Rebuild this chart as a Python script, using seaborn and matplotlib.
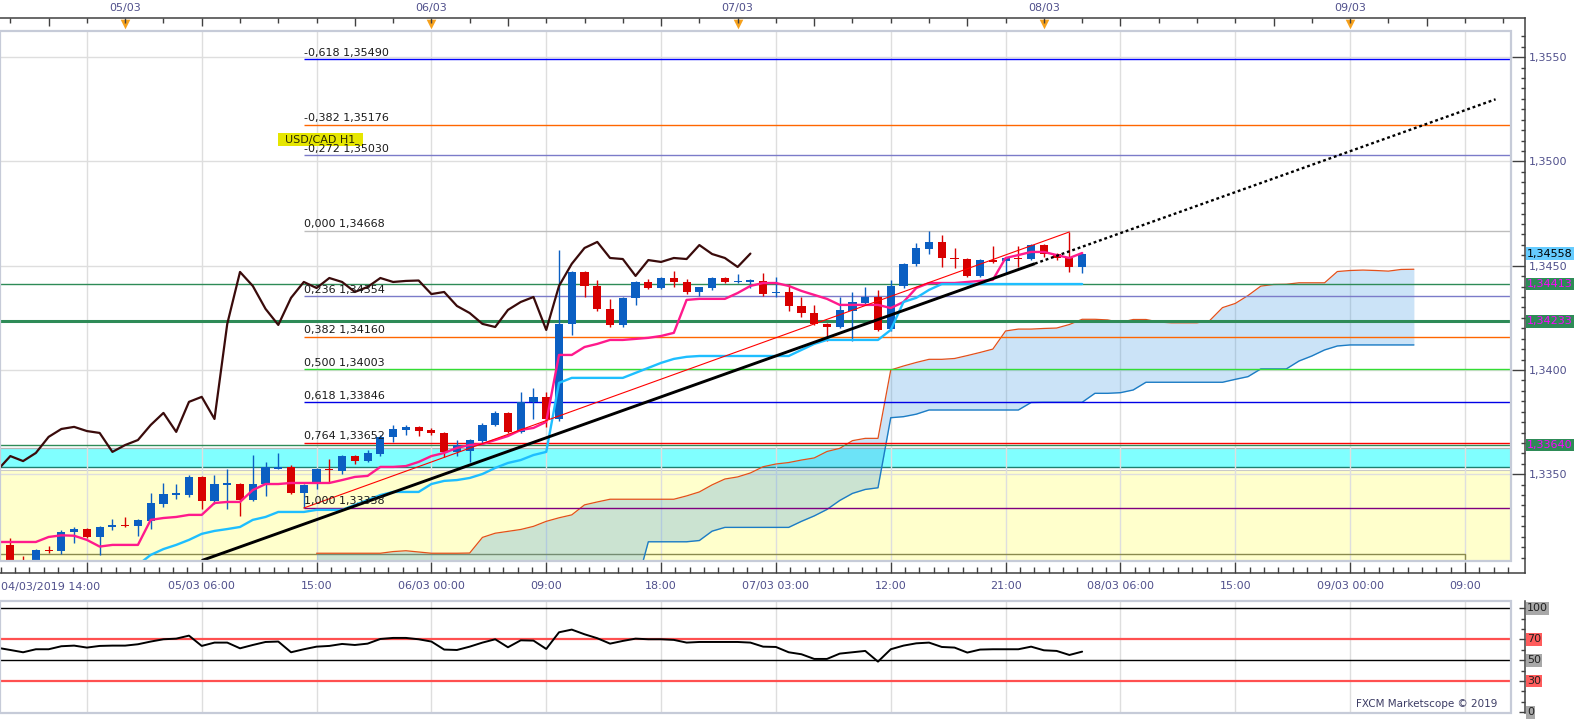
import numpy as np
import pandas as pd
import matplotlib
matplotlib.use("Agg")
import matplotlib.pyplot as plt
import seaborn as sns
from matplotlib.patches import Rectangle
from matplotlib.ticker import FixedLocator, NullFormatter, FuncFormatter
from matplotlib.transforms import blended_transform_factory, offset_copy

sns.set_theme(style="white")
plt.rcParams["font.family"] = ["DejaVu Sans"]

# ---------------- data (hours counted from 04/03/2019 00:00, H1 bars) ----------------
candle_hours = list(range(15, 100))
opens = [1.33161, 1.33089, 1.33079, 1.33137, 1.33132, 1.33223, 1.33237, 1.33199, 1.33247, 1.33256,
         1.33252, 1.33276, 1.33357, 1.33403, 1.33400, 1.33487, 1.33372, 1.33451, 1.33453, 1.33376,
         1.33453, 1.33527, 1.33535, 1.33410, 1.33453, 1.33525, 1.33516, 1.33587, 1.33563, 1.33597,
         1.33679, 1.33712, 1.33727, 1.33712, 1.33698, 1.33607, 1.33611, 1.33659, 1.33736, 1.33794,
         1.33703, 1.33847, 1.33871, 1.33765, 1.34221, 1.34470, 1.34403, 1.34293, 1.34216, 1.34346,
         1.34422, 1.34393, 1.34441, 1.34422, 1.34374, 1.34393, 1.34441, 1.34422, 1.34425, 1.34427,
         1.34369, 1.34374, 1.34307, 1.34273, 1.34221, 1.34206, 1.34283, 1.34321, 1.34350, 1.34197,
         1.34403, 1.34509, 1.34580, 1.34614, 1.34537, 1.34532, 1.34451, 1.34527, 1.34523, 1.34537,
         1.34532, 1.34599, 1.34556, 1.34537, 1.34494]
highs = [1.33194, 1.33108, 1.33141, 1.33156, 1.33232, 1.33247, 1.33242, 1.33252, 1.33285, 1.33295,
         1.33285, 1.33410, 1.33458, 1.33453, 1.33496, 1.33492, 1.33496, 1.33525, 1.33458, 1.33592,
         1.33559, 1.33602, 1.33544, 1.33453, 1.33530, 1.33573, 1.33592, 1.33592, 1.33616, 1.33688,
         1.33736, 1.33736, 1.33731, 1.33722, 1.33703, 1.33664, 1.33669, 1.33746, 1.33803, 1.33799,
         1.33895, 1.33914, 1.33895, 1.34575, 1.34475, 1.34475, 1.34431, 1.34340, 1.34350, 1.34427,
         1.34436, 1.34446, 1.34475, 1.34436, 1.34398, 1.34446, 1.34446, 1.34460, 1.34436, 1.34465,
         1.34446, 1.34412, 1.34350, 1.34312, 1.34226, 1.34350, 1.34374, 1.34398, 1.34384, 1.34431,
         1.34513, 1.34609, 1.34668, 1.34648, 1.34585, 1.34537, 1.34532, 1.34595, 1.34542, 1.34595,
         1.34604, 1.34604, 1.34561, 1.34662, 1.34563]
lows = [1.33050, 1.33060, 1.33074, 1.33122, 1.33117, 1.33170, 1.33194, 1.33113, 1.33232, 1.33247,
        1.33204, 1.33237, 1.33343, 1.33381, 1.33391, 1.33333, 1.33357, 1.33333, 1.33299, 1.33372,
        1.33396, 1.33525, 1.33405, 1.33338, 1.33429, 1.33458, 1.33501, 1.33549, 1.33559, 1.33587,
        1.33655, 1.33688, 1.33683, 1.33688, 1.33583, 1.33587, 1.33559, 1.33650, 1.33731, 1.33698,
        1.33698, 1.33765, 1.33727, 1.33756, 1.34168, 1.34350, 1.34283, 1.34206, 1.34206, 1.34312,
        1.34389, 1.34389, 1.34398, 1.34364, 1.34355, 1.34384, 1.34417, 1.34417, 1.34393, 1.34355,
        1.34350, 1.34283, 1.34254, 1.34216, 1.34139, 1.34202, 1.34139, 1.34312, 1.34187, 1.34187,
        1.34393, 1.34499, 1.34556, 1.34494, 1.34489, 1.34446, 1.34446, 1.34513, 1.34465, 1.34494,
        1.34527, 1.34542, 1.34527, 1.34470, 1.34465]
closes = [1.33079, 1.33079, 1.33137, 1.33132, 1.33223, 1.33237, 1.33199, 1.33247, 1.33256, 1.33252,
          1.33280, 1.33362, 1.33405, 1.33408, 1.33487, 1.33372, 1.33453, 1.33456, 1.33376, 1.33453,
          1.33535, 1.33532, 1.33410, 1.33448, 1.33525, 1.33520, 1.33587, 1.33563, 1.33602, 1.33679,
          1.33717, 1.33727, 1.33707, 1.33698, 1.33607, 1.33640, 1.33664, 1.33736, 1.33794, 1.33703,
          1.33847, 1.33871, 1.33765, 1.34221, 1.34470, 1.34403, 1.34293, 1.34216, 1.34346, 1.34422,
          1.34393, 1.34441, 1.34422, 1.34374, 1.34398, 1.34441, 1.34422, 1.34427, 1.34429, 1.34364,
          1.34374, 1.34307, 1.34273, 1.34221, 1.34206, 1.34288, 1.34326, 1.34350, 1.34192, 1.34403,
          1.34509, 1.34585, 1.34614, 1.34537, 1.34532, 1.34451, 1.34527, 1.34518, 1.34537, 1.34532,
          1.34599, 1.34556, 1.34537, 1.34494, 1.34558]
# indicator series also include the bar just left of the visible window
indicator_hours = list(range(14, 100))
tenkan = [1.33175,
          1.33175, 1.33175, 1.33175, 1.33199, 1.33207, 1.33205, 1.33185, 1.33153, 1.33161, 1.33161,
          1.33161, 1.33281, 1.33290, 1.33295, 1.33305, 1.33305, 1.33362, 1.33367, 1.33367, 1.33424,
          1.33453, 1.33453, 1.33458, 1.33458, 1.33458, 1.33458, 1.33472, 1.33487, 1.33492, 1.33535,
          1.33535, 1.33539, 1.33559, 1.33587, 1.33602, 1.33626, 1.33640, 1.33645, 1.33664, 1.33683,
          1.33712, 1.33722, 1.33751, 1.34072, 1.34072, 1.34110, 1.34125, 1.34144, 1.34144, 1.34149,
          1.34154, 1.34163, 1.34178, 1.34336, 1.34341, 1.34341, 1.34341, 1.34369, 1.34403, 1.34417,
          1.34417, 1.34403, 1.34379, 1.34360, 1.34341, 1.34312, 1.34312, 1.34312, 1.34312, 1.34297,
          1.34326, 1.34393, 1.34417, 1.34417, 1.34417, 1.34422, 1.34427, 1.34432, 1.34537, 1.34551,
          1.34566, 1.34566, 1.34551, 1.34537, 1.34561]
kijun = [1.33017,
         1.33017, 1.33017, 1.33017, 1.33017, 1.33017, 1.33017, 1.33017, 1.33017, 1.33017, 1.33017,
         1.33065, 1.33113, 1.33141, 1.33161, 1.33185, 1.33214, 1.33228, 1.33237, 1.33247, 1.33281,
         1.33295, 1.33319, 1.33319, 1.33319, 1.33329, 1.33329, 1.33329, 1.33353, 1.33376, 1.33400,
         1.33415, 1.33415, 1.33415, 1.33453, 1.33468, 1.33472, 1.33482, 1.33501, 1.33530, 1.33554,
         1.33568, 1.33592, 1.33607, 1.33938, 1.33962, 1.33962, 1.33962, 1.33962, 1.33962, 1.33986,
         1.34010, 1.34034, 1.34053, 1.34063, 1.34067, 1.34067, 1.34067, 1.34067, 1.34067, 1.34067,
         1.34067, 1.34067, 1.34096, 1.34125, 1.34144, 1.34144, 1.34144, 1.34144, 1.34144, 1.34192,
         1.34326, 1.34346, 1.34384, 1.34412, 1.34412, 1.34412, 1.34412, 1.34412, 1.34412, 1.34412,
         1.34412, 1.34412, 1.34412, 1.34412, 1.34412]
rsi_values = [62.0,
              59.9, 57.7, 60.6, 60.6, 63.5, 64.1, 62.2, 63.8, 64.1, 64.1,
              65.4, 68.0, 70.2, 70.8, 73.7, 63.8, 67.0, 67.0, 61.5, 64.7,
              67.6, 68.0, 57.7, 60.6, 63.1, 63.8, 65.7, 64.7, 66.0, 70.5,
              71.5, 71.5, 70.2, 68.0, 60.3, 59.9, 63.1, 67.0, 70.2, 62.5,
              69.2, 68.9, 60.9, 76.9, 79.5, 75.0, 71.2, 66.0, 68.6, 70.8,
              70.2, 70.2, 69.6, 67.0, 67.6, 67.6, 67.6, 67.6, 67.0, 63.1,
              62.8, 57.7, 55.8, 51.3, 51.3, 56.4, 57.7, 59.0, 48.7, 60.6,
              64.1, 66.3, 67.0, 62.8, 62.2, 57.4, 60.3, 60.6, 60.6, 60.6,
              63.1, 59.6, 59.0, 55.1, 58.3]
senkou_hours = list(range(39, 126))
senkou_a = [1.33121, 1.33121, 1.33121, 1.33121, 1.33121, 1.33121, 1.33129, 1.33133, 1.33127, 1.33121,
            1.33121, 1.33121, 1.33122, 1.33197, 1.33217, 1.33226, 1.33235, 1.33250, 1.33274, 1.33291,
            1.33305, 1.33353, 1.33367, 1.33380, 1.33380, 1.33380, 1.33380, 1.33380, 1.33380, 1.33396,
            1.33415, 1.33449, 1.33477, 1.33487, 1.33506, 1.33536, 1.33549, 1.33556, 1.33568, 1.33578,
            1.33609, 1.33624, 1.33661, 1.33672, 1.33672, 1.34000, 1.34019, 1.34036, 1.34051, 1.34051,
            1.34055, 1.34069, 1.34084, 1.34100, 1.34187, 1.34196, 1.34196, 1.34199, 1.34201, 1.34218,
            1.34243, 1.34243, 1.34240, 1.34228, 1.34242, 1.34242, 1.34230, 1.34226, 1.34226, 1.34226,
            1.34237, 1.34299, 1.34319, 1.34357, 1.34402, 1.34410, 1.34411, 1.34418, 1.34418, 1.34418,
            1.34472, 1.34477, 1.34479, 1.34477, 1.34474, 1.34482, 1.34483]
senkou_b = [1.32950, 1.32950, 1.32950, 1.32950, 1.32950, 1.32950, 1.32950, 1.32950, 1.32950, 1.32950,
            1.32950, 1.32950, 1.32950, 1.32950, 1.32950, 1.32950, 1.32950, 1.32950, 1.32950, 1.32950,
            1.32950, 1.32950, 1.32950, 1.32950, 1.32950, 1.32950, 1.33176, 1.33176, 1.33176, 1.33176,
            1.33182, 1.33227, 1.33245, 1.33245, 1.33245, 1.33245, 1.33245, 1.33245, 1.33274, 1.33300,
            1.33331, 1.33374, 1.33408, 1.33427, 1.33435, 1.33771, 1.33776, 1.33788, 1.33808, 1.33808,
            1.33808, 1.33808, 1.33808, 1.33808, 1.33808, 1.33808, 1.33844, 1.33845, 1.33845, 1.33845,
            1.33845, 1.33888, 1.33888, 1.33891, 1.33904, 1.33941, 1.33941, 1.33941, 1.33941, 1.33941,
            1.33941, 1.33941, 1.33955, 1.33968, 1.34005, 1.34005, 1.34005, 1.34043, 1.34067, 1.34096,
            1.34115, 1.34120, 1.34120, 1.34120, 1.34120, 1.34120, 1.34120]
chikou_shift = 26

fib_ratios = ["-0,618", "-0,382", "-0,272", "0,000", "0,236", "0,382", "0,500", "0,618", "0,764", "1,000"]
fib_prices = [1.35490, 1.35176, 1.35030, 1.34668, 1.34354, 1.34160, 1.34003, 1.33846, 1.33652, 1.33338]
fib_colors = ["#0000ff", "#ff6600", "#7b7bc9", "#bdbdbd", "#7b7bc9", "#ff6600", "#33dd33", "#0000e6", "#ff0000", "#800080"]
fib_start_hour = 38

level_prices = [1.34413, 1.34233, 1.33640]
level_widths = [1.0, 2.2, 1.0]
cyan_band = [1.33535, 1.33626]
yellow_top = 1.33520
box_top = 1.33117
box_right_hour = 129

trend_hours = [30, 95.3, 131.4]
trend_prices = [1.33086, 1.34510, 1.35298]
channel_hours = [38, 98]
channel_prices = [1.33338, 1.34662]

badge_texts = ["1,34558", "1,34413", "1,34233", "1,33640"]
badge_prices = [1.34558, 1.34413, 1.34233, 1.33640]
badge_bg = ["#66ccff", "#2e8b57", "#2e8b57", "#2e8b57"]
badge_fg = ["#000000", "#ff00ff", "#ff00ff", "#ff00ff"]

price_ticks = [1.3350, 1.3400, 1.3450, 1.3500, 1.3550]
time_tick_hours = [21, 30, 39, 48, 57, 66, 75, 84, 93, 102, 111, 120, 129]
time_tick_labels = ["", "05/03 06:00", "15:00", "06/03 00:00", "09:00", "18:00", "07/03 03:00",
                    "12:00", "21:00", "08/03 06:00", "15:00", "09/03 00:00", "09:00"]
first_time_label = "04/03/2019 14:00"
day_hours = [24, 48, 72, 96, 120]
day_labels = ["05/03", "06/03", "07/03", "08/03", "09/03"]
rsi_levels = [100, 70, 50, 30, 0]
rsi_level_bg = ["#a8a8a8", "#ff5c5c", "#a8a8a8", "#ff5c5c", "#a8a8a8"]

# ---------------- layout ----------------
W, H = 1583, 720
PT = 0.72  # points per pixel at dpi 100
fig = plt.figure(figsize=(W / 100, H / 100), dpi=100)
fig.patch.set_facecolor("white")

X0, X1 = 14.19, 132.61
Y0, Y1 = 1.330862, 1.356256

ax = fig.add_axes([0, 1 - 560.5 / H, 1511 / W, (560.5 - 31) / H])
axr = fig.add_axes([0, 1 - 713 / H, 1511 / W, (713 - 601) / H])

BLUE = "#0b5fc2"
RED = "#d80000"
LABEL_COL = "#50508c"
AXIS_COL = "#404040"
GRID_COL = "#dedede"
FRAME_COL = "#c6cbd8"

df = pd.DataFrame({"hour": candle_hours, "open": opens, "high": highs, "low": lows, "close": closes})
df["chikou_hour"] = df["hour"] - chikou_shift
ind = pd.DataFrame({"hour": indicator_hours, "tenkan": tenkan, "kijun": kijun, "rsi": rsi_values})
cloud = pd.DataFrame({"hour": senkou_hours, "a": senkou_a, "b": senkou_b})

ax.set_xlim(X0, X1)
ax.set_ylim(Y0, Y1)

# background zones
ax.axhspan(1.3200, yellow_top, color="#ffffcc", lw=0, zorder=0.3)
ax.axhspan(cyan_band[0], cyan_band[1], color="#80ffff", lw=0, zorder=0.4)
ax.axhline(yellow_top, color="#c9c9c9", lw=0.8, zorder=0.45)
ax.axhline(cyan_band[1], color="#b5b5b5", lw=0.9, zorder=0.45)
ax.axhline(cyan_band[0], color="#1e7f70", lw=1.0, zorder=0.45)

# grid
for h in time_tick_hours:
    ax.axvline(h, color=GRID_COL, lw=1.0, zorder=0.8)
    axr.axvline(h, color=GRID_COL, lw=1.0, zorder=0.8)
for p in price_ticks:
    ax.axhline(p, color=GRID_COL, lw=1.0, zorder=0.8)

# olive rectangle at bottom
ax.plot([X0 - 2, box_right_hour, box_right_hour], [box_top, box_top, 1.3290],
        color="#8a8a4e", lw=1.0, zorder=0.9)

# ichimoku cloud
ax.fill_between(cloud["hour"], cloud["a"], cloud["b"], color="#3393e1", alpha=0.25, lw=0, zorder=1.5)
sns.lineplot(data=cloud, x="hour", y="a", ax=ax, color="#e2501c", lw=0.9, zorder=2.1, legend=False)
sns.lineplot(data=cloud, x="hour", y="b", ax=ax, color="#1c7cc4", lw=1.0, zorder=2.1, legend=False)

# horizontal levels
for p, lw in zip(level_prices, level_widths):
    ax.axhline(p, color="#2e8b57", lw=lw, zorder=2.3)

# fibonacci levels
for r, p, c in zip(fib_ratios, fib_prices, fib_colors):
    ax.hlines(p, fib_start_hour, X1 + 5, color=c, lw=1.0, zorder=2.4)
    ax.text(fib_start_hour + 0.05, p, f"{r} {p:.5f}".replace(".", ","),
            transform=offset_copy(ax.transData, fig=fig, y=1.5, units="dots"),
            ha="left", va="bottom", fontsize=8, color="#1a1a1a", zorder=7)

# instrument label
ax.add_patch(Rectangle((35.98, 1.35074), 6.66, 0.00062, fc="#e6e600", ec="none", zorder=6.5))
ax.text(39.31, 1.35105, "USD/CAD H1", ha="center", va="center", fontsize=8, color="#2a2a00", zorder=6.6)

# candles
up = df["close"] >= df["open"]
cols = np.where(up, BLUE, RED)
diff = (df["close"] - df["open"]).abs()
min_h = 0.00008
body_h = np.maximum(diff, min_h)
body_lo = np.where(diff < min_h, (df["open"] + df["close"]) / 2 - min_h / 2,
                   np.minimum(df["open"], df["close"]))
ax.vlines(df["hour"], df["low"], df["high"], colors=cols, lw=1.0, zorder=4)
ax.bar(df["hour"], body_h, bottom=body_lo, width=0.64, color=cols, lw=0, zorder=4.1)

# ichimoku lines
sns.lineplot(data=df, x="chikou_hour", y="close", ax=ax, color="#3a0b0b", lw=1.6, zorder=5, legend=False)
sns.lineplot(data=ind, x="hour", y="tenkan", ax=ax, color="#ff1a8c", lw=1.7, zorder=5, legend=False)
sns.lineplot(data=ind, x="hour", y="kijun", ax=ax, color="#1ebeff", lw=1.7, zorder=5.1, legend=False)

# trend lines
ax.plot(channel_hours, channel_prices, color="#ff0000", lw=0.8, zorder=5.5)
ax.plot(trend_hours[:2], trend_prices[:2], color="black", lw=2.1, zorder=6, solid_capstyle="butt")
ax.plot(trend_hours[1:], trend_prices[1:], color="black", lw=1.7, zorder=6, linestyle=(0, (1.2, 1.2)))

ax.set_xlim(X0, X1)
ax.set_ylim(Y0, Y1)
ax.set_xlabel("")
ax.set_ylabel("")

# frame
ax.add_patch(Rectangle((0, 0), 1, 1, transform=ax.transAxes, fill=False, ec=FRAME_COL, lw=1.6,
                       clip_on=False, zorder=10))

# price axis (right)
for s in ["left", "top"]:
    ax.spines[s].set_visible(False)
ax.spines["right"].set_position(("outward", 14 * PT))
ax.spines["right"].set_color(AXIS_COL)
ax.spines["right"].set_linewidth(1.1)
ax.spines["right"].set_bounds(1.330262, 1.356880)
ax.yaxis.tick_right()
ax.yaxis.set_major_locator(FixedLocator(price_ticks))
ax.yaxis.set_minor_locator(FixedLocator(np.arange(1.3305, 1.3566, 0.0005)))
ax.yaxis.set_major_formatter(FuncFormatter(lambda v, _: f"{v:.4f}".replace(".", ",")))
ax.tick_params(axis="y", which="major", direction="in", length=13 * PT, width=1, color=AXIS_COL,
               labelsize=8, labelcolor=LABEL_COL, pad=4 * PT, right=True, left=False)
ax.tick_params(axis="y", which="minor", direction="in", length=4 * PT, width=1, color=AXIS_COL,
               right=True, left=False)

# time axis (bottom)
ax.spines["bottom"].set_position(("outward", 12.5 * PT))
ax.spines["bottom"].set_color(AXIS_COL)
ax.spines["bottom"].set_linewidth(1.1)
ax.spines["bottom"].set_bounds(X0, 133.7)
ax.xaxis.set_major_locator(FixedLocator(time_tick_hours))
ax.xaxis.set_major_formatter(FuncFormatter(lambda v, i: time_tick_labels[i] if i is not None and i < len(time_tick_labels) else ""))
ax.xaxis.set_minor_locator(FixedLocator(np.arange(21 - 6 * 1.125, 133.7, 1.125)))
ax.tick_params(axis="x", which="major", direction="in", length=11 * PT, width=1, color=AXIS_COL,
               labelsize=8, labelcolor=LABEL_COL, pad=8 * PT, bottom=True, top=False)
ax.tick_params(axis="x", which="minor", direction="in", length=6 * PT, width=1, color=AXIS_COL,
               bottom=True, top=False)
fig.text(1 / W, 1 - 587 / H, first_time_label, ha="left", va="center", fontsize=8, color=LABEL_COL)

# top day axis
axt = ax.twiny()
axt.set_xlim(X0, X1)
for s in ["left", "right", "bottom"]:
    axt.spines[s].set_visible(False)
axt.spines["top"].set_position(("outward", 13 * PT))
axt.spines["top"].set_color(AXIS_COL)
axt.spines["top"].set_linewidth(1.1)
axt.spines["top"].set_bounds(X0, 133.7)
axt.xaxis.set_major_locator(FixedLocator(np.arange(18, 133, 12)))
axt.xaxis.set_minor_locator(FixedLocator(np.arange(15, 133, 3)))
axt.xaxis.set_major_formatter(NullFormatter())
axt.tick_params(axis="x", which="major", direction="in", length=8 * PT, width=1, color=AXIS_COL,
                top=True, bottom=False)
axt.tick_params(axis="x", which="minor", direction="in", length=5 * PT, width=1, color=AXIS_COL,
                top=True, bottom=False)
tr_top = blended_transform_factory(axt.transData, axt.transAxes)
ph = 560.5 - 31
for h, lab in zip(day_hours, day_labels):
    axt.text(h, 1 + (31 - 8) / ph, lab, transform=tr_top, ha="center", va="center",
             fontsize=8, color=LABEL_COL, clip_on=False)
ax.scatter(day_hours, [1 + (31 - 24) / ph] * len(day_hours), marker="v", s=48, color="#f6a11c",
           transform=blended_transform_factory(ax.transData, ax.transAxes), clip_on=False,
           zorder=11, lw=0)

# price badges
tr_badge = blended_transform_factory(ax.transAxes, ax.transData)
for t, p, bg, fg in zip(badge_texts, badge_prices, badge_bg, badge_fg):
    ax.text(1527 / 1511, p, t, transform=tr_badge, ha="left", va="center", fontsize=8, color=fg,
            bbox=dict(boxstyle="square,pad=0.12", fc=bg, ec="none"), clip_on=False, zorder=12)

# ---------------- RSI panel ----------------
axr.set_xlim(X0, X1)
axr.set_ylim(-0.7, 107)
sns.lineplot(data=ind, x="hour", y="rsi", ax=axr, color="black", lw=1.4, zorder=5, legend=False)
axr.set_xlim(X0, X1)
axr.set_ylim(-0.7, 107)
for lv, c, lw in zip([100, 70, 50, 30], ["black", "#ff5050", "black", "#ff5050"], [1.0, 1.6, 1.0, 1.6]):
    axr.axhline(lv, color=c, lw=lw, zorder=3)
axr.set_xlabel("")
axr.set_ylabel("")
axr.set_xticks([])
for s in ["left", "top", "bottom"]:
    axr.spines[s].set_visible(False)
axr.spines["right"].set_position(("outward", 14 * PT))
axr.spines["right"].set_color(AXIS_COL)
axr.spines["right"].set_linewidth(1.1)
axr.yaxis.tick_right()
axr.yaxis.set_major_locator(FixedLocator(rsi_levels))
axr.yaxis.set_minor_locator(FixedLocator(np.arange(0, 107, 10)))
axr.yaxis.set_major_formatter(NullFormatter())
axr.tick_params(axis="y", which="major", direction="in", length=6 * PT, width=1, color=AXIS_COL,
                right=True, left=False)
axr.tick_params(axis="y", which="minor", direction="in", length=4 * PT, width=1, color=AXIS_COL,
                right=True, left=False)
axr.add_patch(Rectangle((0, 0), 1, 1, transform=axr.transAxes, fill=False, ec=FRAME_COL, lw=1.6,
                        clip_on=False, zorder=10))
tr_rsi = blended_transform_factory(axr.transAxes, axr.transData)
for lv, bg in zip(rsi_levels, rsi_level_bg):
    axr.text(1527 / 1511, lv, str(lv), transform=tr_rsi, ha="left", va="center", fontsize=8,
             color="#202020", bbox=dict(boxstyle="square,pad=0.12", fc=bg, ec="none"),
             clip_on=False, zorder=12)
fig.text(1497 / W, 1 - 704 / H, "FXCM Marketscope \u00a9 2019", ha="right", va="center",
         fontsize=7.5, color="#3c3c64")

fig.savefig("out.png", dpi=100, facecolor="white")
